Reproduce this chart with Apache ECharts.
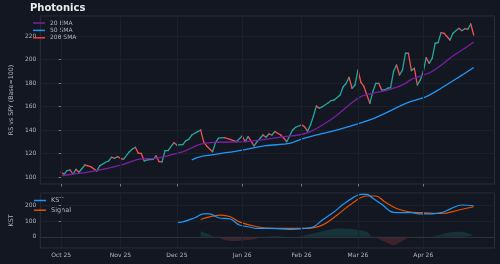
<!DOCTYPE html>
<html>
<head>
<meta charset="utf-8">
<script src="https://cdn.jsdelivr.net/npm/echarts@6/dist/echarts.min.js"></script>
<style>
  html, body { margin: 0; padding: 0; background: #131722; }
  #chart { width: 500px; height: 264px; }
</style>
</head>
<body>
<div id="chart"></div>
<script>
// trading-day index of the first session of each month
const monthIdx = [0, 20, 39, 61, 81, 100, 122];
const monthLabels = ['Oct 25', 'Nov 25', 'Dec 25', 'Jan 26', 'Feb 26', 'Mar 26', 'Apr 26'];

// RS vs SPY (Base=100)
const rsIdx = [0, 1, 2, 3, 4, 5, 6, 8, 9, 10, 12, 13, 15, 16, 17, 18, 19, 20, 21, 23, 24, 25, 26, 27, 28, 29,
  31, 32, 33, 34, 35, 36, 38, 39, 41, 42, 43, 44, 46, 47, 48, 49, 51, 52, 53, 55, 57, 59, 61, 62, 63, 65, 66,
  68, 69, 70, 71, 72, 74, 75, 76, 78, 79, 81, 82, 83, 84, 85, 86, 87, 88, 90, 91, 92, 94, 95, 96, 97, 98, 99,
  100, 101, 102, 103, 104, 105, 106, 107, 108, 109, 110, 111, 112, 113, 114, 115, 116, 117, 118, 119, 120,
  121, 122, 123, 124, 125, 126, 127, 128, 129, 131, 132, 134, 135, 136, 137, 138, 139];
const rsVal = [104, 102.3, 105.4, 106, 102.3, 106.5, 104, 110.2, 109.4, 108.8, 105, 109.4, 112.5, 113.6, 116.8,
  115.9, 117.3, 115.9, 115, 121.5, 123.8, 125.3, 120.2, 120, 113.6, 114.5, 115, 117.9, 113, 112.8, 122.4, 122.4,
  129.2, 127.2, 127.5, 130.9, 132, 135.7, 138.6, 140, 130, 126.4, 121.5, 129.2, 133, 133.4, 132, 130, 134.9, 130,
  134.3, 126.4, 130, 135.7, 133.8, 136.6, 135.7, 138.6, 135.7, 133, 130, 140, 142.3, 144.3, 142.8, 139, 144, 152,
  160.4, 158.5, 159.8, 163.2, 165, 165.5, 169.8, 176.8, 179.5, 184.8, 175.5, 178.3, 191, 180.5, 177, 169.8, 162.7,
  172.6, 179.7, 179.7, 174, 174, 175.5, 176, 190, 195.3, 186.8, 191, 205.3, 205.3, 190.5, 192.5, 178.3, 182.6,
  189.6, 201.5, 196.7, 201, 213.8, 214.3, 222.9, 222.3, 216.6, 222.3, 226.5, 224.5, 226.2, 225.7, 230.2, 220.8];

const ema20 = [[0, 101.1], [4, 102.3], [12, 105.4], [21, 110.8], [26, 115], [32, 115.9], [37, 118.7], [42, 122.4],
  [47, 128], [52, 129.5], [62, 130], [69, 132], [75, 134.3], [80, 135.7], [84, 138.6], [89, 145.7], [93, 152.8],
  [97, 161.3], [101, 168.4], [105, 171.2], [110, 174], [115, 178.3], [118, 183], [120, 185], [124, 188.5],
  [126, 191.5], [129, 197], [132, 203], [136, 209.5], [139, 214.8]];
const sma50 = [[44, 114.5], [47, 117.3], [58, 121.5], [69, 126.6], [77, 128.6], [82, 133], [93, 140], [104, 148.5],
  [115, 161.3], [117, 163.5], [123, 168.4], [128, 175.5], [134, 185], [139, 193.2]];
const sma200 = [];

const kst = [[39, 91], [41, 95], [45, 121], [48, 145], [50, 145], [53, 121], [57, 113], [60, 75], [63, 64], [66, 53],
  [71, 53], [77, 47], [82, 53], [85, 64], [88, 106], [92, 159], [95, 206], [98, 244], [101, 269], [103, 269],
  [105, 244], [108, 206], [112, 155], [115, 153], [118, 153], [121, 145], [125, 146], [128, 153], [131, 176],
  [135, 202], [139, 197]];
const signal = [[47, 110], [50, 127], [54, 138], [57, 127], [60, 95], [66, 64], [71, 53], [82, 53], [88, 74],
  [93, 138], [98, 212], [103, 259], [106, 259], [109, 223], [113, 180], [117, 159], [121, 153], [128, 148],
  [134, 170], [139, 191]];
const hist = [[47, 36], [49, 22], [52, 0], [55, -20], [58, -27], [62, -22], [66, -12], [68, 0], [72, 6], [76, 0],
  [80, 2], [85, 21], [89, 40], [93, 53], [98, 49], [103, 32], [105, 0], [109, -32], [112, -53], [115, -27],
  [118, 0], [121, -11], [124, 0], [128, 15], [131, 27], [135, 32], [139, 6]];

const UP = '#26a69a', DOWN = '#ef5350';
const TXT = '#b2b5be', FRAME = '#2a2e39', GRIDC = '#1c202b';
const FONT = 'DejaVu Sans';

// consecutive point pairs, coloured by direction in renderItem
const rsSegs = [];
for (let i = 0; i < rsIdx.length - 1; i++) {
  rsSegs.push([rsIdx[i], rsVal[i], rsIdx[i + 1], rsVal[i + 1]]);
}
// histogram split into its positive and negative halves
const histPos = hist.map(p => [p[0], Math.max(p[1], 0)]);
const histNeg = hist.map(p => [p[0], Math.min(p[1], 0)]);

const monthLines = monthIdx.map(v => ({ xAxis: v }));
const gridMark = {
  silent: true, symbol: 'none', animation: false,
  label: { show: false },
  lineStyle: { color: GRIDC, width: 1, type: 'solid' },
  data: monthLines
};

const chart = echarts.init(document.getElementById('chart'));
chart.setOption({
  backgroundColor: '#131722',
  animation: false,
  title: {
    text: 'Photonics', left: 30, top: 3, padding: 0,
    textStyle: { color: '#e8eaed', fontFamily: FONT, fontWeight: 'bold', fontSize: 10 }
  },
  legend: [
    {
      data: ['20 EMA', '50 SMA', '200 SMA'], orient: 'vertical', left: 33, top: 20, padding: 0,
      icon: 'rect', itemWidth: 12, itemHeight: 1.5, itemGap: 1.4,
      textStyle: { color: TXT, fontFamily: FONT, fontSize: 6, lineHeight: 6 }
    },
    {
      data: ['KST', 'Signal'], orient: 'vertical', left: 34, top: 197, padding: 0,
      icon: 'rect', itemWidth: 12, itemHeight: 1.5, itemGap: 2.7,
      textStyle: { color: TXT, fontFamily: FONT, fontSize: 6.5, lineHeight: 6 }
    }
  ],
  grid: [
    { left: 29.4, right: 5.5, top: 16, height: 168, show: true, borderColor: FRAME, borderWidth: 1, backgroundColor: 'transparent' },
    { left: 29.4, right: 5.5, top: 193, height: 55, show: true, borderColor: FRAME, borderWidth: 1, backgroundColor: 'transparent' }
  ],
  xAxis: [0, 1].map(g => ({
    type: 'value', gridIndex: g, min: -7, max: 146,
    axisLine: { show: false },
    splitLine: { show: false },
    axisTick: { show: true, length: 2.5, lineStyle: { color: '#787b86' }, customValues: monthIdx },
    axisLabel: {
      show: g === 1, color: TXT, fontFamily: FONT, fontSize: 6, margin: 4,
      customValues: monthIdx,
      formatter: v => monthLabels[monthIdx.indexOf(v)] || ''
    }
  })),
  yAxis: [
    {
      type: 'value', gridIndex: 0, min: 94, max: 237, splitNumber: 7,
      name: 'RS vs SPY (Base=100)', nameLocation: 'middle', nameGap: 20,
      nameTextStyle: { color: TXT, fontFamily: FONT, fontSize: 6.3 },
      axisLine: { show: false },
      axisTick: { show: true, length: 2.5, lineStyle: { color: '#787b86' } },
      axisLabel: { color: TXT, fontFamily: FONT, fontSize: 6, margin: 4, showMinLabel: false, showMaxLabel: false },
      splitLine: { show: true, lineStyle: { color: GRIDC, width: 1 } }
    },
    {
      type: 'value', gridIndex: 1, min: -71, max: 278, splitNumber: 3,
      name: 'KST', nameLocation: 'middle', nameGap: 20,
      nameTextStyle: { color: TXT, fontFamily: FONT, fontSize: 6.3 },
      axisLine: { show: false },
      axisTick: { show: true, length: 2.5, lineStyle: { color: '#787b86' } },
      axisLabel: { color: TXT, fontFamily: FONT, fontSize: 6, margin: 4, showMinLabel: false, showMaxLabel: false },
      splitLine: { show: true, lineStyle: { color: GRIDC, width: 1 } }
    }
  ],
  series: [
    {
      type: 'custom', xAxisIndex: 0, yAxisIndex: 0,
      data: rsSegs, encode: { x: [0, 2], y: [1, 3] },
      renderItem: (params, api) => {
        const p0 = api.coord([api.value(0), api.value(1)]);
        const p1 = api.coord([api.value(2), api.value(3)]);
        return {
          type: 'line',
          shape: { x1: p0[0], y1: p0[1], x2: p1[0], y2: p1[1] },
          style: { stroke: api.value(3) >= api.value(1) ? UP : DOWN, lineWidth: 1.3, lineCap: 'round' }
        };
      },
      z: 3
    },
    {
      name: '20 EMA', type: 'line', xAxisIndex: 0, yAxisIndex: 0, data: ema20,
      color: '#7b1fa2', showSymbol: false, smooth: 0.3, lineStyle: { width: 1.3 },
      markLine: gridMark, z: 4
    },
    {
      name: '50 SMA', type: 'line', xAxisIndex: 0, yAxisIndex: 0, data: sma50,
      color: '#2196f3', showSymbol: false, smooth: 0.3, lineStyle: { width: 1.3 }, z: 4
    },
    {
      name: '200 SMA', type: 'line', xAxisIndex: 0, yAxisIndex: 0, data: sma200,
      color: '#f44336', showSymbol: false, lineStyle: { width: 1.3 }
    },
    {
      name: 'KST', type: 'line', xAxisIndex: 1, yAxisIndex: 1, data: kst,
      color: '#2196f3', showSymbol: false, smooth: 0.4, lineStyle: { width: 1.2 }, z: 4,
      markLine: {
        silent: true, symbol: 'none', animation: false, label: { show: false },
        data: monthLines.concat([{ yAxis: 0, lineStyle: { color: '#2e323d' } }]),
        lineStyle: { color: GRIDC, width: 1, type: 'solid' }
      }
    },
    {
      name: 'HistUp', type: 'line', xAxisIndex: 1, yAxisIndex: 1, data: histPos,
      color: UP, showSymbol: false, smooth: 0.3, lineStyle: { width: 0 },
      areaStyle: { color: UP, opacity: 0.2 }, z: 2
    },
    {
      name: 'HistDown', type: 'line', xAxisIndex: 1, yAxisIndex: 1, data: histNeg,
      color: DOWN, showSymbol: false, smooth: 0.3, lineStyle: { width: 0 },
      areaStyle: { color: DOWN, opacity: 0.2 }, z: 2
    },
    {
      name: 'Signal', type: 'line', xAxisIndex: 1, yAxisIndex: 1, data: signal,
      color: '#e65100', showSymbol: false, smooth: 0.4, lineStyle: { width: 1.2 }, z: 3
    }
  ]
});
</script>
</body>
</html>
